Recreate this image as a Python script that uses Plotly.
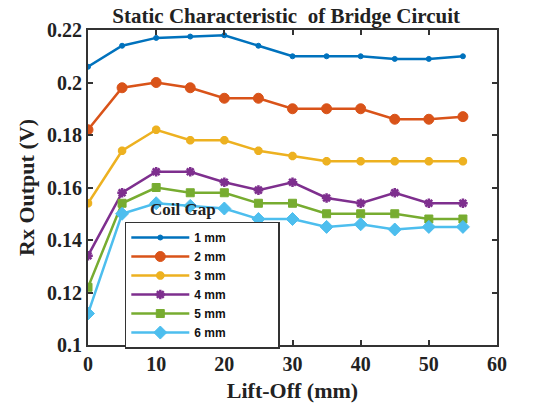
import plotly.graph_objects as go

lift_off = [0, 5, 10, 15, 20, 25, 30, 35, 40, 45, 50, 55]
gap_1mm = [0.206, 0.214, 0.217, 0.2175, 0.218, 0.214, 0.210, 0.210, 0.210, 0.209, 0.209, 0.210]
gap_2mm = [0.182, 0.198, 0.200, 0.198, 0.194, 0.194, 0.190, 0.190, 0.190, 0.186, 0.186, 0.187]
gap_3mm = [0.154, 0.174, 0.182, 0.178, 0.178, 0.174, 0.172, 0.170, 0.170, 0.170, 0.170, 0.170]
gap_4mm = [0.134, 0.158, 0.166, 0.166, 0.162, 0.159, 0.162, 0.156, 0.154, 0.158, 0.154, 0.154]
gap_5mm = [0.122, 0.154, 0.160, 0.158, 0.158, 0.154, 0.154, 0.150, 0.150, 0.150, 0.148, 0.148]
gap_6mm = [0.112, 0.150, 0.154, 0.153, 0.152, 0.148, 0.148, 0.145, 0.146, 0.144, 0.145, 0.145]
labels = ["1 mm", "2 mm", "3 mm", "4 mm", "5 mm", "6 mm"]
x_ticks = [0, 10, 20, 30, 40, 50, 60]
y_ticks = [0.1, 0.12, 0.14, 0.16, 0.18, 0.2, 0.22]
y_tick_text = ["0.1", "0.12", "0.14", "0.16", "0.18", "0.2", "0.22"]

series = [gap_1mm, gap_2mm, gap_3mm, gap_4mm, gap_5mm, gap_6mm]
colors = ["#0072BD", "#D95319", "#EDB120", "#7E2F8E", "#77AC30", "#4DBEEE"]
symbols = ["circle", "circle", "asterisk", "asterisk", "square", "diamond"]
sizes = [5, 10, 7, 8, 8, 10]
mlw = [1, 1, 3, 2.5, 1, 1]

serif = "Liberation Serif, Times New Roman, serif"
fig = go.Figure()
for ys, lab, c, s, sz, lw in zip(series, labels, colors, symbols, sizes, mlw):
    fig.add_trace(go.Scatter(
        x=lift_off, y=ys, name=lab + "\u00a0" * 14, mode="lines+markers",
        line=dict(color=c, width=2.5),
        marker=dict(symbol=s, size=sz, color=c, line=dict(color=c, width=lw)),
    ))

axis_common = dict(ticks="inside", ticklen=5, showgrid=False, zeroline=False,
                   showline=True, linecolor="#333", linewidth=2, mirror="ticks",
                   tickcolor="#333", tickwidth=1.5, automargin=False,
                   tickfont=dict(family=serif, size=20, color="#222", weight="bold"))

fig.update_layout(
    width=536, height=405,
    margin=dict(l=88, r=39, t=30, b=60),
    paper_bgcolor="white", plot_bgcolor="white",
    title=dict(text="<b>Static Characteristic\u00a0 of Bridge Circuit</b>",
               x=0.534, xanchor="center", y=0.962, yanchor="middle",
               font=dict(family=serif, size=21, color="#222")),
    xaxis=dict(range=[0, 60], tickvals=x_ticks,
               title=dict(text="<b>Lift-Off (mm)</b>", standoff=9,
                          font=dict(family=serif, size=22, color="#222")),
               **axis_common),
    yaxis=dict(range=[0.1, 0.22], tickvals=y_ticks, ticktext=y_tick_text,
               title=dict(text="<b>Rx Output (V)</b>", standoff=6,
                          font=dict(family=serif, size=22, color="#222")),
               **axis_common),
    legend=dict(x=0.09, y=0.392, xanchor="left", yanchor="top",
                bordercolor="#333", borderwidth=1.5, bgcolor="white",
                font=dict(family="Liberation Sans, Arial, sans-serif", size=12,
                          color="#111", weight="bold"),
                itemwidth=58, tracegroupgap=0),
    showlegend=True,
)
fig.add_annotation(text="<b>Coil Gap</b>", x=0.232, y=0.43, xref="paper", yref="paper",
                   showarrow=False, xanchor="center", yanchor="middle",
                   font=dict(family=serif, size=17, color="#222"))

fig.write_html("out.html")
